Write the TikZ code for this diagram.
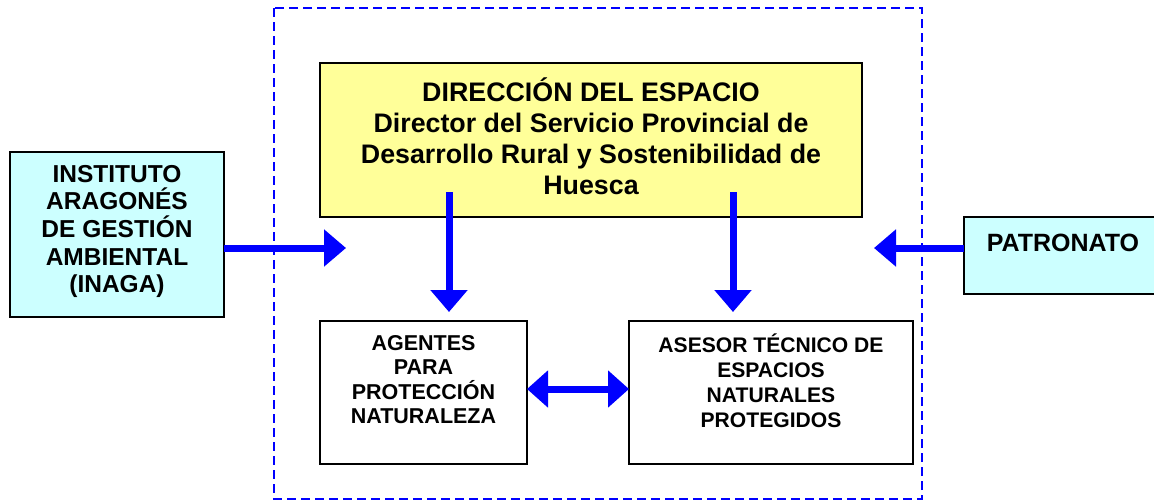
\documentclass[tikz,border=0pt]{standalone}
\usepackage{fontspec}
\setmainfont{Liberation Sans}
\usetikzlibrary{arrows.meta}
\definecolor{boxyellow}{HTML}{FFFF99}
\definecolor{boxcyan}{HTML}{CCFFFF}
\definecolor{arrblue}{HTML}{0000FF}
\begin{document}
\begin{tikzpicture}[x=1pt,y=-1pt,
  box/.style={draw=black,line width=1.3pt,inner sep=0pt,font=\bfseries},
  txt/.style={align=center,font=\bfseries,inner sep=0pt},
  bigarrow/.style={draw=arrblue,line width=7pt,-{Triangle[length=22pt,width=36pt]}},
  dblarrow/.style={draw=arrblue,line width=7pt,{Triangle[length=21pt,width=36pt]}-{Triangle[length=21pt,width=36pt]}},
  frame/.style={draw=arrblue,line width=2.4pt,dash pattern=on 9pt off 5pt}
]
\useasboundingbox (0,0) rectangle (1154,501);
\fill[white] (0,0) rectangle (1154,501);

% boxes
\node[box,fill=boxyellow,minimum width=542pt,minimum height=154pt] (dir) at (591,140) {};
\node[txt,font=\bfseries\fontsize{26.8}{31}\selectfont] (dirtxt) at (591,136)
  {DIRECCIÓN DEL ESPACIO\\Director del Servicio Provincial de\\Desarrollo Rural y Sostenibilidad de\\Huesca};

\node[box,fill=boxcyan,minimum width=214pt,minimum height=165pt] (inaga) at (117,234.5) {};
\node[txt,font=\bfseries\fontsize{24.5}{27.7}\selectfont] (inagatxt) at (117,231.5)
  {INSTITUTO\\ARAGONÉS\\DE GESTIÓN\\AMBIENTAL\\(INAGA)};

\node[box,fill=boxcyan,minimum width=198pt,minimum height=77pt] (pat) at (1063,255.5) {};
\node[txt,font=\bfseries\fontsize{25}{28}\selectfont] (pattxt) at (1063,243) {PATRONATO};

\node[box,fill=white,minimum width=207pt,minimum height=143pt] (agentes) at (423.5,392.5) {};
\node[txt,font=\bfseries\fontsize{21.5}{24.5}\selectfont] (agtxt) at (423.5,379.5)
  {AGENTES\\PARA\\PROTECCIÓN\\NATURALEZA};

\node[box,fill=white,minimum width=284pt,minimum height=143pt] (asesor) at (771,392.5) {};
\node[txt,font=\bfseries\fontsize{21.1}{25}\selectfont] (astxt) at (771,380.5)
  {ASESOR TÉCNICO DE\\ESPACIOS\\NATURALES\\PROTEGIDOS};

% coordinates for arrows
\coordinate (inagaout) at (224,248);
\coordinate (inagatip) at (346,248);
\coordinate (patout) at (964,248);
\coordinate (pattip) at (874,248);
\coordinate (dleftstart) at (449,192);
\coordinate (dlefttip) at (449,312);
\coordinate (drightstart) at (733,192);
\coordinate (drighttip) at (733,312);
\coordinate (agout) at (527,389);
\coordinate (asin) at (629,389);

% frame
\draw[frame] (274,8) rectangle (922,499);

% arrows
\draw[bigarrow] (inagaout) -- (inagatip);
\draw[bigarrow] (patout) -- (pattip);
\draw[bigarrow] (dleftstart) -- (dlefttip);
\draw[bigarrow] (drightstart) -- (drighttip);
\draw[dblarrow] (agout) -- (asin);
\end{tikzpicture}
\end{document}
